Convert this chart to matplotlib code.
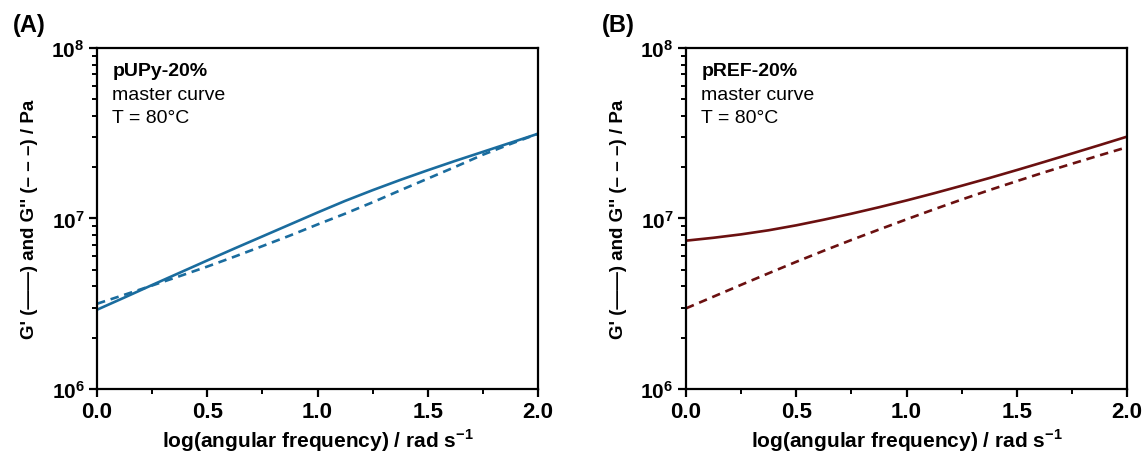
import matplotlib.pyplot as plt
from matplotlib.ticker import FixedLocator, LogLocator, NullFormatter

plt.rcParams['font.family'] = ['Liberation Sans', 'DejaVu Sans']
plt.rcParams['mathtext.fontset'] = 'custom'
plt.rcParams['mathtext.rm'] = 'Liberation Sans:bold'
plt.rcParams['mathtext.bf'] = 'Liberation Sans:bold'

# log(angular frequency), rad/s
log_freq = [0.0, 0.125, 0.25, 0.375, 0.5, 0.625, 0.75, 0.875, 1.0,
            1.125, 1.25, 1.375, 1.5, 1.625, 1.75, 1.875, 2.0]

# moduli in Pa
pupy_storage = [2.917e6, 3.443e6, 4.074e6, 4.808e6, 5.675e6, 6.683e6,
                7.852e6, 9.226e6, 1.084e7, 1.268e7, 1.466e7, 1.683e7,
                1.919e7, 2.178e7, 2.460e7, 2.780e7, 3.141e7]
pupy_loss = [3.162e6, 3.573e6, 4.046e6, 4.592e6, 5.224e6, 5.984e6,
             6.887e6, 7.943e6, 9.226e6, 1.067e7, 1.245e7, 1.462e7,
             1.714e7, 2.009e7, 2.366e7, 2.735e7, 3.141e7]
pref_storage = [7.413e6, 7.709e6, 8.072e6, 8.531e6, 9.120e6, 9.840e6,
                1.067e7, 1.164e7, 1.276e7, 1.406e7, 1.556e7, 1.726e7,
                1.923e7, 2.148e7, 2.404e7, 2.692e7, 3.020e7]
pref_loss = [2.972e6, 3.483e6, 4.083e6, 4.775e6, 5.572e6, 6.471e6,
             7.482e6, 8.610e6, 9.886e6, 1.132e7, 1.291e7, 1.466e7,
             1.656e7, 1.866e7, 2.094e7, 2.344e7, 2.618e7]

panels = [
    ('(A)', 'pUPy-20%', pupy_storage, pupy_loss, '#1a6c9e'),
    ('(B)', 'pREF-20%', pref_storage, pref_loss, '#6b1010'),
]

fig = plt.figure(figsize=(11.43, 4.64), dpi=100)
lefts = [0.0849, 0.6002]

for left, (tag, name, storage, loss, color) in zip(lefts, panels):
    ax = fig.add_axes([left, 0.1595, 0.3858, 0.7349])
    ax.plot(log_freq, storage, color=color, lw=1.9)
    ax.plot(log_freq, loss, color=color, lw=1.9, dashes=(3.2, 2.2))
    ax.set_yscale('log')
    ax.set_xlim(0, 2)
    ax.set_ylim(1e6, 1e8)

    for sp in ax.spines.values():
        sp.set_linewidth(1.6)

    ax.set_xticks([0, 0.5, 1.0, 1.5, 2.0])
    ax.set_xticklabels(['0.0', '0.5', '1.0', '1.5', '2.0'],
                       fontweight='bold', fontsize=16)
    ax.xaxis.set_minor_locator(FixedLocator([0.25, 0.75, 1.25, 1.75]))
    ax.set_yticks([1e6, 1e7, 1e8])
    ax.set_yticklabels([r'$\mathbf{10^{6}}$', r'$\mathbf{10^{7}}$',
                        r'$\mathbf{10^{8}}$'], fontsize=15)
    ax.yaxis.set_minor_locator(LogLocator(base=10, subs=range(2, 10)))
    ax.yaxis.set_minor_formatter(NullFormatter())

    ax.tick_params(which='major', direction='out', length=6, width=1.6,
                   top=False, right=False, pad=3)
    ax.tick_params(which='minor', direction='out', length=3.5, width=1.4,
                   top=False, right=False)

    ax.set_xlabel(r'log(angular frequency) / rad s$^{\mathbf{-1}}$',
                  fontsize=15, fontweight='bold', labelpad=3)
    ax.set_ylabel("G' (\u2014\u2014) and G'' (\u2013 \u2013 \u2013) / Pa",
                  fontsize=13.5, fontweight='bold', labelpad=10)

    ax.text(0.035, 0.958, name, transform=ax.transAxes, fontsize=14,
            fontweight='bold', va='top')
    ax.text(0.035, 0.89, 'master curve', transform=ax.transAxes,
            fontsize=14, va='top')
    ax.text(0.035, 0.822, 'T = 80\u00b0C', transform=ax.transAxes,
            fontsize=14, va='top')

    fig.text(left - 0.074, 0.97, tag, fontsize=17, fontweight='bold',
             va='top')

fig.savefig('out.png', dpi=100)
